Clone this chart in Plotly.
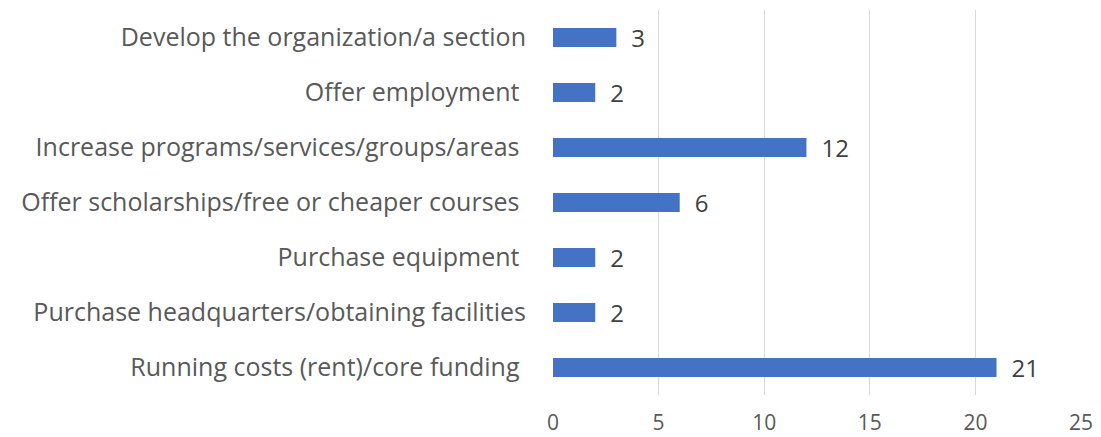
import plotly.graph_objects as go

# Uses of funding, listed bottom-to-top as drawn on the y axis
categories = [
    "Running costs (rent)/core funding\u00a0",
    "Purchase headquarters/obtaining facilities",
    "Purchase equipment\u00a0",
    "Offer scholarships/free or cheaper courses\u00a0",
    "Increase programs/services/groups/areas\u00a0",
    "Offer employment\u00a0",
    "Develop the organization/a section",
]
counts = [21, 2, 2, 6, 12, 2, 3]
x_ticks = [0, 5, 10, 15, 20, 25]

FONT = "Open Sans, Liberation Sans, sans-serif"

fig = go.Figure(
    go.Bar(
        x=counts,
        y=categories,
        orientation="h",
        marker=dict(color="#4472C4", line=dict(width=0)),
        text=[f"\u2002{v}" for v in counts],
        textposition="outside",
        constraintext="none",
        textfont=dict(family=FONT, size=24, color="#404040"),
        cliponaxis=False,
        width=0.345,
    )
)

fig.update_layout(
    width=1101,
    height=437,
    margin=dict(l=553, r=20, t=10, b=42),
    paper_bgcolor="white",
    plot_bgcolor="white",
    showlegend=False,
    font=dict(family=FONT, color="#595959"),
)

fig.update_xaxes(
    range=[0, 25],
    tickvals=x_ticks,
    showgrid=True,
    gridcolor="#D9D9D9",
    gridwidth=1.3,
    zeroline=False,
    showline=False,
    automargin=False,
    tickfont=dict(family=FONT, size=21, color="#595959"),
    ticklabelstandoff=13,
)

fig.update_yaxes(
    categoryorder="array",
    categoryarray=categories,
    showgrid=False,
    zeroline=False,
    showline=False,
    automargin=False,
    tickfont=dict(family=FONT, size=25, color="#595959"),
    ticklabelstandoff=26,
)

fig.write_html("out.html")
